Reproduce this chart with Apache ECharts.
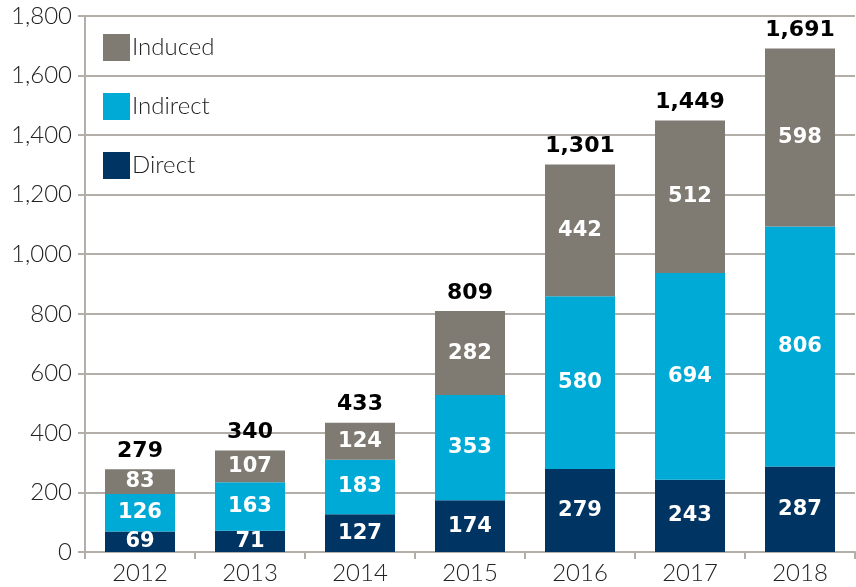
<!DOCTYPE html>
<html>
<head>
<meta charset="utf-8">
<script src="https://cdn.jsdelivr.net/npm/echarts@6/dist/echarts.min.js"></script>
<style>
  html, body { margin: 0; padding: 0; background: #fff; }
  #main { width: 856px; height: 587px; }
</style>
</head>
<body>
<div id="main"></div>
<script>
var years = ['2012', '2013', '2014', '2015', '2016', '2017', '2018'];
var direct = [69, 71, 127, 174, 279, 243, 287];
var indirect = [126, 163, 183, 353, 580, 694, 806];
var induced = [83, 107, 124, 282, 442, 512, 598];
var totals = [279, 340, 433, 809, 1301, 1449, 1691];

var FONT = 'Lato';
var BOLD = 'DejaVu Sans';
var gridColor = '#b3aea7';

function segLabel() {
  return {
    show: true,
    position: 'inside',
    color: '#fff',
    fontFamily: BOLD,
    fontWeight: 'bold',
    fontSize: 21
  };
}

var myChart = echarts.init(document.getElementById('main'));
var option = {
  animation: false,
  color: ['#003462', '#00aad6', '#7f7b73'],
  grid: { left: 85, right: 1, top: 16, bottom: 35 },
  legend: {
    orient: 'vertical',
    left: 103,
    top: 34,
    padding: 0,
    itemWidth: 27,
    itemHeight: 27,
    itemGap: 32,
    icon: 'rect',
    data: ['Induced', 'Indirect', 'Direct'],
    textStyle: { fontFamily: FONT, fontWeight: 300, fontSize: 24, color: '#222', padding: [0, 0, 0, -3] }
  },
  xAxis: {
    type: 'category',
    data: years,
    axisLine: { lineStyle: { color: gridColor, width: 2 } },
    axisTick: { show: true, length: 7, lineStyle: { color: gridColor, width: 2 } },
    axisLabel: { fontFamily: FONT, fontWeight: 300, fontSize: 24, color: '#222', margin: 9 }
  },
  yAxis: {
    type: 'value',
    min: 0,
    max: 1800,
    interval: 200,
    axisLine: { show: true, lineStyle: { color: gridColor, width: 2 } },
    axisTick: { show: true, length: 7, lineStyle: { color: gridColor, width: 2 } },
    axisLabel: {
      fontFamily: FONT, fontWeight: 300, fontSize: 24, color: '#222', margin: 13,
      formatter: function (v) { return v.toLocaleString('en-US'); }
    },
    splitLine: { lineStyle: { color: gridColor, width: 2 } }
  },
  series: [
    {
      name: 'Direct', type: 'bar', stack: 'a', barWidth: 70,
      data: direct, label: segLabel()
    },
    {
      name: 'Indirect', type: 'bar', stack: 'a', barWidth: 70,
      data: indirect, label: segLabel()
    },
    {
      name: 'Induced', type: 'bar', stack: 'a', barWidth: 70,
      data: induced, label: segLabel()
    },
    {
      name: 'Total', type: 'bar', stack: 'a', barWidth: 70,
      data: totals.map(function () { return 0; }),
      itemStyle: { color: 'transparent' },
      label: {
        show: true,
        position: 'top',
        distance: 7,
        color: '#000',
        fontFamily: BOLD,
        fontWeight: 'bold',
        fontSize: 22,
        formatter: function (p) { return totals[p.dataIndex].toLocaleString('en-US'); }
      }
    }
  ]
};
myChart.setOption(option);
</script>
</body>
</html>
